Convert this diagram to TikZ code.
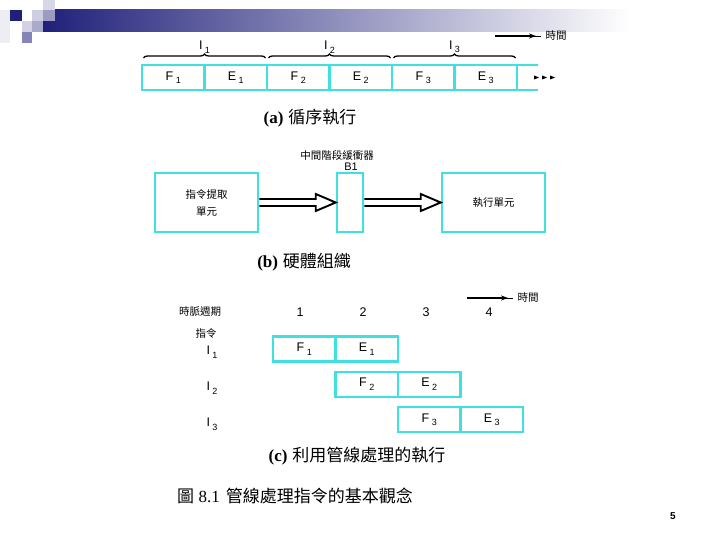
\documentclass[tikz,border=0pt]{standalone}
\usepackage{fontspec}
\setmainfont{Liberation Sans}
\newfontfamily\cjk{Noto Sans CJK TC}
\newfontfamily\capserif{Liberation Serif}
\usepackage{tikz}
\usetikzlibrary{positioning,calc,arrows.meta}
\usetikzlibrary{decorations.pathreplacing}
\definecolor{cellcyan}{RGB}{64,224,224}
\definecolor{bandnavy}{RGB}{32,32,122}
\newcommand{\lab}[2]{#1\hspace{2.5pt}\raisebox{-3.5pt}{\fontsize{9}{9}\selectfont #2}}
\newcommand{\fatarrow}[2]{%
  \draw[line width=1.9pt,fill=white,line join=miter]
    ($(#1.east)+(0,-3.5)$) -- ($(#2.west)+(-20,-3.5)$) -- ($(#2.west)+(-20,-8.5)$)
    -- (#2.west) -- ($(#2.west)+(-20,8.5)$) -- ($(#2.west)+(-20,3.5)$) -- ($(#1.east)+(0,3.5)$);}

\begin{document}
\begin{tikzpicture}[x=1pt,y=-1pt,font=\fontsize{12.5}{14}\selectfont,
  cell/.style={draw=cellcyan,line width=2.5pt,minimum width=62.5pt,minimum height=25pt,inner sep=0pt,outer sep=0pt},
  unit/.style={draw=cellcyan,line width=2.5pt,minimum width=103pt,minimum height=59pt,inner sep=0pt,align=center,font=\cjk\fontsize{10.5}{17}\selectfont},
  small/.style={font=\cjk\fontsize{10.5}{12}\selectfont},
  caption/.style={font=\fontsize{17}{19}\selectfont},
  brace/.style={decorate,decoration={brace,amplitude=4pt,raise=7pt},line width=1.3pt}]
  \useasboundingbox (0,0) rectangle (720,540);
  % banner
  \fill[bandnavy!8] (0,10) rectangle (10,43);
  \shade[left color=bandnavy,middle color=bandnavy!35!gray!45,right color=white] (43,10) rectangle (630,32);
  \fill[bandnavy] (10,10) rectangle (22,21);
  \fill[bandnavy!22] (32,10) rectangle (43,21);
  \fill[bandnavy!18] (43,0) rectangle (55,10);
  \fill[bandnavy!45] (43,10) rectangle (55,21);
  \fill[bandnavy!20] (22,21) rectangle (32,32);
  \fill[bandnavy!38] (32,21) rectangle (43,32);
  \fill[bandnavy!55] (22,32) rectangle (32,43);

  % (a) sequential
  \foreach \s/\n [count=\i] in {F/1,E/1,F/2,E/2,F/3,E/3}
    \node[cell] (a\i) at ({142+62.5*(\i-0.5)},77.5) {\lab{\s}{\n}};
  \draw[cellcyan,line width=2.5pt] (a6.north east) -- ++(21,0) (a6.south east) -- ++(21,0);
  \foreach \x in {0,8,16}
    \fill ($(a6.east)+(22+\x,0)$) -- ++(-5,-2) -- ++(0,4) -- cycle;
  \draw[brace] ([xshift=1.5pt]a1.north west) -- node[above=8pt] {\lab{I}{1}} ([xshift=-1.5pt]a2.north east);
  \draw[brace] ([xshift=1.5pt]a3.north west) -- node[above=8pt] {\lab{I}{2}} ([xshift=-1.5pt]a4.north east);
  \draw[brace] ([xshift=1.5pt]a5.north west) -- node[above=8pt] {\lab{I}{3}} ([xshift=-1.5pt]a6.north east);
  \coordinate (ta0) at (495,36);
  \coordinate (ta1) at (541,36);
  \draw[line width=0.6pt] (ta0) -- (ta1);
  \draw[line width=1.6pt,-{Stealth[length=7pt,width=5pt]}] (ta0) -- ($(ta1)+(-5,0)$);
  \node[small,right=1pt of ta1] (time1) {時間};
  \node[caption] (capa) at (310,118) {{\capserif\bfseries (a)} {\cjk 循序執行}};

  % (b) hardware
  \node[unit] (fetch) at (206.5,202.5) {指令提取\\單元};
  \node[unit,minimum width=26pt] (buf) at (350,202.5) {};
  \node[unit] (exec) at (493.5,202.5) {執行單元};
  \node[font=\fontsize{11}{12}\selectfont,inner sep=0.5pt] (bname) at (351,167) {B1};
  \node[small,inner sep=0.5pt] (blabel) at (337,155) {中間階段緩衝器};
  \fatarrow{fetch}{buf}
  \fatarrow{buf}{exec}
  \node[caption] (capb) at (304,262) {{\capserif\bfseries (b)} {\cjk 硬體組織}};

  % (c) pipelined
  \node[small] (clk) at (200,312) {時脈週期};
  \foreach \n in {1,...,4}
    \node (cyc\n) at ({300+63*(\n-1)},312) {\n};
  \coordinate (tc0) at (467,298);
  \coordinate (tc1) at (513,298);
  \draw[line width=0.6pt] (tc0) -- (tc1);
  \draw[line width=1.6pt,-{Stealth[length=7pt,width=5pt]}] (tc0) -- ($(tc1)+(-5,0)$);
  \node[small,right=1pt of tc1] (time2) {時間};
  \node[small] (instr) at (206,333) {指令};
  \foreach \n in {1,2,3} {
    \node (ins\n) at (212,{352+36*(\n-1)}) {\lab{I}{\n}};
    \node[cell] (f\n) at ({273+62.5*(\n-0.5)},{349+35.25*(\n-1)}) {\lab{F}{\n}};
    \node[cell,right=0pt of f\n] (e\n) {\lab{E}{\n}};
  }
  \node[caption] (capc) at (357,456) {{\capserif\bfseries (c)} {\cjk 利用管線處理的執行}};

  \node[caption] (fig) at (295,496) {{\cjk 圖} {\capserif 8.1}\hspace{6pt}{\cjk 管線處理指令的基本觀念}};
  \node[font=\bfseries\fontsize{10}{12}\selectfont] (pnum) at (673,516) {5};
\end{tikzpicture}
\end{document}
